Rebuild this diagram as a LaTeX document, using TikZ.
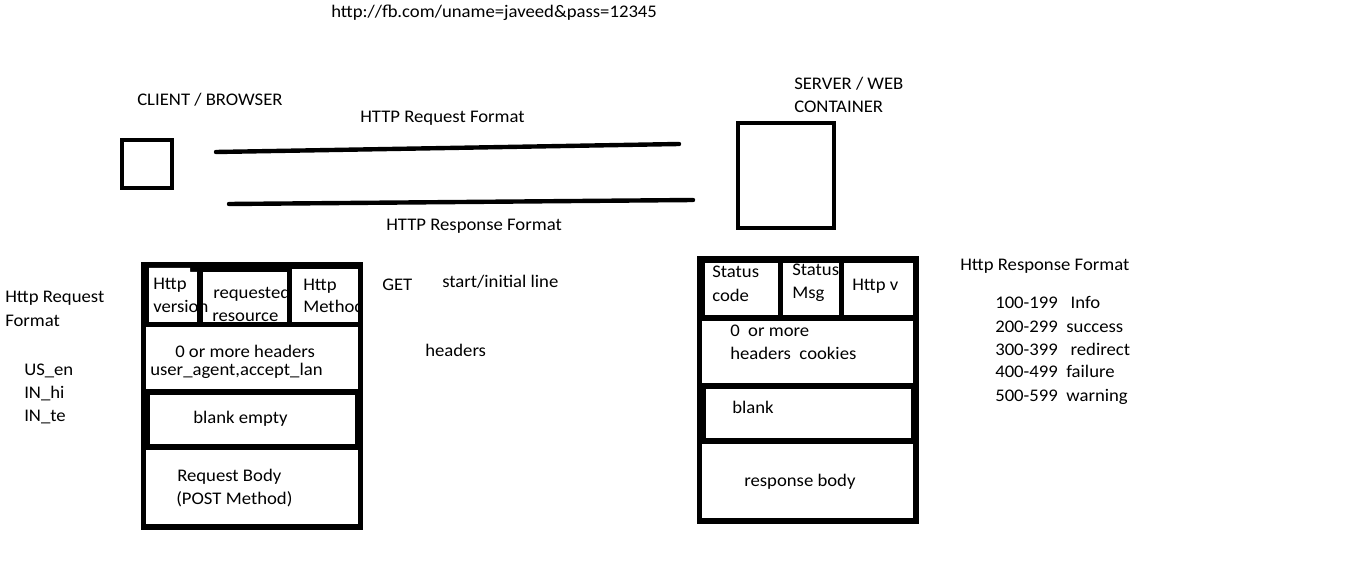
\documentclass[tikz,border=0pt]{standalone}
\usepackage{fontspec}
\setmainfont{Carlito}[FakeStretch=1.055]
\begin{document}
\begin{tikzpicture}[x=0.75pt,y=-0.75pt,
  lbl/.style={anchor=base west,inner sep=0pt,font=\fontsize{13.3}{17}\selectfont},
  frame/.style={draw=black,line width=3pt,fill=white},
  wire/.style={draw=black,line width=3.3pt,line cap=round},
  cell/.style={fill=white}]
\useasboundingbox[fill=white] (0,0) rectangle (1360,570);

% top url
\node[lbl] (url) at (331,18) {http://fb.com/uname=javeed\&pass=12345};

% client and server
\draw[frame] (122,140) rectangle (172,188);
\draw[frame] (738,123) rectangle (834,228);
\node[lbl] (client) at (137,106) {CLIENT / BROWSER};
\node[lbl] (server1) at (794,90) {SERVER / WEB};
\node[lbl] (server2) at (794,113) {CONTAINER};

\coordinate (rqA) at (216,152);
\coordinate (rqB) at (679,144);
\coordinate (rsA) at (229,204);
\coordinate (rsB) at (693,200);
\draw[wire] (rqA) -- (rqB);
\draw[wire] (rsA) -- (rsB);
\node[lbl] (reqfmt) at (360,123) {HTTP Request Format};
\node[lbl] (resfmt) at (386,231) {HTTP Response Format};

% request format box
\fill[black] (141,262) rectangle (363,530);
\fill[cell] (149,268) -- (190,268) -- (190,272) -- (197,272) -- (197,322) -- (149,322) -- cycle;
\fill[cell] (203,272) rectangle (287,322);
\fill[cell] (292,269) rectangle (358,322);
\fill[cell] (146,327) rectangle (358,389);
\fill[cell] (150,395) rectangle (355,444);
\fill[cell] (146,450) rectangle (358,524);

\node[lbl] (hv1) at (153,290) {Http};
\node[lbl] (hv2) at (153,312) {version};
\node[lbl] (rr1) at (213,299) {requested};
\node[lbl] (rr2) at (212,321) {resource};
\node[lbl] (hm1) at (303,291) {Http};
\node[lbl] (hm2) at (303,313) {Method};
\fill[black] (197,272) rectangle (203,322);
\fill[black] (287,269) rectangle (292,322);
\fill[black] (358,262) rectangle (363,330);
\node[lbl] (hd1) at (175,358) {0 or more headers};
\node[lbl] (hd2) at (150,375) {user\_agent,accept\_lan};
\node[lbl] (be) at (193,423) {blank empty};
\node[lbl] (rb1) at (177,481) {Request Body};
\node[lbl] (rb2) at (176,504) {(POST Method)};

% response format box
\fill[black] (697,256) rectangle (919,524);
\fill[cell] (705,263) rectangle (778,315);
\fill[cell] (783,263) rectangle (839,315);
\fill[cell] (844,263) rectangle (913,315);
\fill[cell] (702,321) rectangle (913,383);
\fill[cell] (706,389) rectangle (911,438);
\fill[cell] (702,444) rectangle (913,518);

\node[lbl] (sc1) at (712,278) {Status};
\node[lbl] (sc2) at (712,301) {code};
\node[lbl] (sm1) at (792,276) {Status};
\node[lbl] (sm2) at (792,299) {Msg};
\fill[black] (839,263) rectangle (844,315);
\fill[black] (783,256) rectangle (839,263);
\node[lbl] (hv) at (852,291) {Http v};
\node[lbl] (rh1) at (730,336) {0\ \ or more};
\node[lbl] (rh2) at (730,359) {headers\ \ cookies};
\node[lbl] (bl) at (732,413) {blank};
\node[lbl] (rbody) at (744,486) {response body};

% side notes
\node[lbl] (get) at (382,291) {GET};
\node[lbl] (start) at (442,288) {start/initial line};
\node[lbl] (hdrs) at (425,356) {headers};

\node[lbl] (hrf1) at (5,303) {Http Request};
\node[lbl] (hrf2) at (5,326) {Format};
\node[lbl] (us) at (24,375) {US\_en};
\node[lbl] (hi) at (24,398) {IN\_hi};
\node[lbl] (te) at (24,421) {IN\_te};

\node[lbl] (hresf) at (960,271) {Http Response Format};
\node[lbl] (c1) at (995,309) {100-199\ \ \ Info};
\node[lbl] (c2) at (995,332) {200-299\ \ success};
\node[lbl] (c3) at (995,355) {300-399\ \ \ redirect};
\node[lbl] (c4) at (995,378) {400-499\ \ failure};
\node[lbl] (c5) at (995,401) {500-599\ \ warning};
\end{tikzpicture}
\end{document}
